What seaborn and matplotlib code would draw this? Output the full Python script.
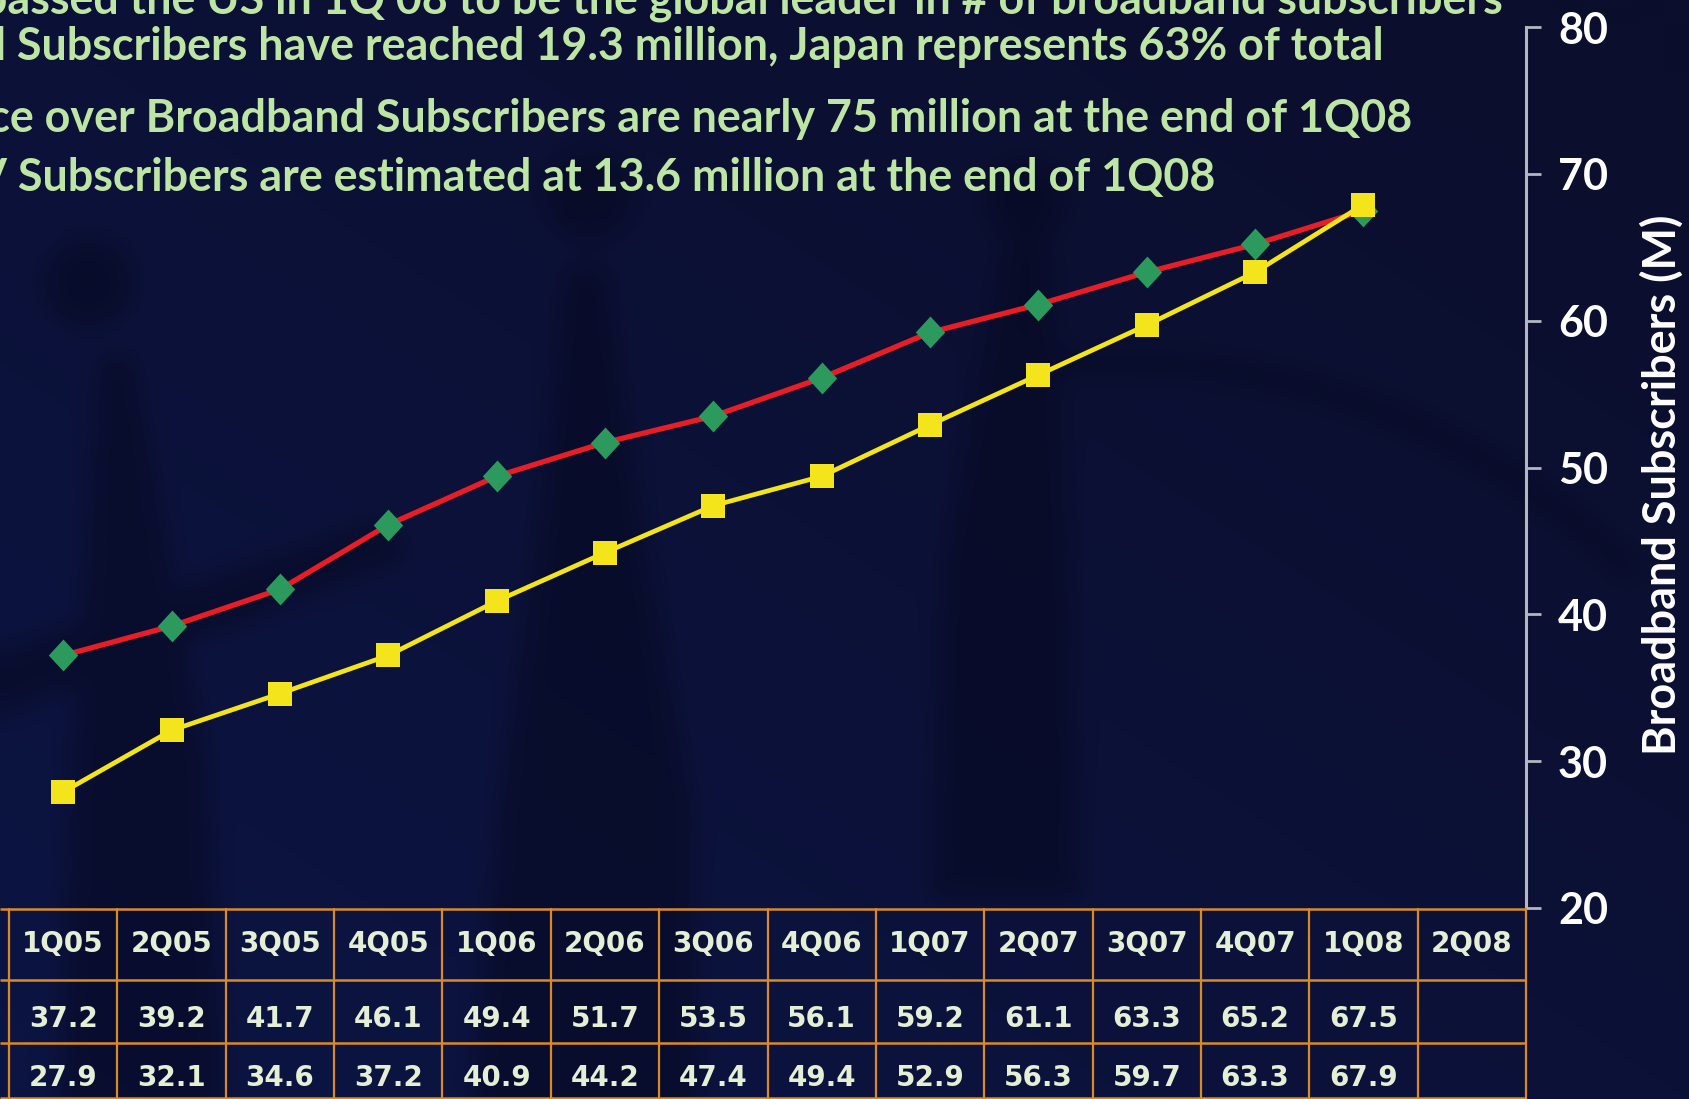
import numpy as np
import pandas as pd
import matplotlib
matplotlib.use("Agg")
import matplotlib.pyplot as plt
from matplotlib.path import Path
import seaborn as sns

# ---------------------------------------------------------------- data
quarters = ["1Q05", "2Q05", "3Q05", "4Q05", "1Q06", "2Q06", "3Q06",
            "4Q06", "1Q07", "2Q07", "3Q07", "4Q07", "1Q08", "2Q08"]
us_subs = [37.2, 39.2, 41.7, 46.1, 49.4, 51.7, 53.5, 56.1, 59.2, 61.1,
           63.3, 65.2, 67.5]
china_subs = [27.9, 32.1, 34.6, 37.2, 40.9, 44.2, 47.4, 49.4, 52.9, 56.3,
              59.7, 63.3, 67.9]
y_ticks = [20, 30, 40, 50, 60, 70, 80]
y_label = "Broadband Subscribers (M)"
headlines = [
    "China surpassed the US in 1Q 08 to be the global leader in # of broadband subscribers",
    "Fiber Optical Subscribers have reached 19.3 million, Japan represents 63% of total",
    "Voice over Broadband Subscribers are nearly 75 million at the end of 1Q08",
    "IPTV Subscribers are estimated at 13.6 million at the end of 1Q08",
]

# ---------------------------------------------------------------- style
sns.set_theme(style="white")
plt.rcParams["font.family"] = ["DejaVu Sans"]

W, H, DPI = 1689, 1099, 100
BG = "#0c1236"
TEXT_GREEN = "#bde5a3"
GRID_ORANGE = "#d98a24"
CELL_TEXT = "#e4efd6"
AXIS_GREY = "#b4b6c0"
HEAD_FONT = ["Lato", "DejaVu Sans"]

fig = plt.figure(figsize=(W / DPI, H / DPI), dpi=DPI, facecolor=BG)
renderer = fig.canvas.get_renderer()


def px_x(x):
    return x / W


def px_y(y):
    # pixel measured from the top edge -> figure fraction
    return 1 - y / H


def fit_size(s, target_px, **kw):
    t = fig.text(0, 0, s, fontsize=30, **kw)
    w = t.get_window_extent(renderer).width
    t.remove()
    return 30 * target_px / w


# ---------------------------------------------------------------- backdrop
# gradient slide background with soft, blurred silhouettes
nx, ny = 422, 275
gx = np.linspace(0, W, nx)
gy = np.linspace(0, H, ny)
GX, GY = np.meshgrid(gx, gy)
c_a = np.array([0x0c, 0x14, 0x42]) / 255   # bluer lower left
c_b = np.array([0x0b, 0x0e, 0x2c]) / 255   # darker upper right
mix = np.clip(0.5 + 0.55 * (GX / W - GY / H), 0, 1)[..., None]
base = c_a * (1 - mix) + c_b * mix

pts = np.column_stack([GX.ravel(), GY.ravel()])
mask = np.zeros(GX.shape)


def add_poly(verts):
    global mask
    inside = Path(verts).contains_points(pts).reshape(GX.shape)
    mask = np.maximum(mask, inside.astype(float))


def add_circle(cx, cy, r):
    global mask
    inside = ((GX - cx) ** 2 + (GY - cy) ** 2) <= r ** 2
    mask = np.maximum(mask, inside.astype(float))


add_circle(86, 282, 44)
add_poly([(98, 355), (130, 355), (160, 520), (205, 760), (225, 1099),
          (55, 1099), (70, 760), (88, 520)])
add_circle(588, 195, 44)
add_poly([(565, 265), (605, 265), (640, 520), (690, 800), (700, 1099),
          (470, 1099), (500, 800), (540, 520)])
add_circle(1025, 200, 40)
add_poly([(1005, 240), (1050, 240), (1070, 560), (1080, 900),
          (930, 900), (945, 560)])
add_poly([(0, 650), (380, 520), (410, 555), (0, 715)])
# large dim arc on the right
rr = np.hypot(GX - 1120, GY - 1093)
ang = np.degrees(np.arctan2(1093 - GY, GX - 1120))
mask = np.maximum(mask, ((np.abs(rr - 731) < 11) & (ang > 45) & (ang < 97)).astype(float) * 0.9)


def box_blur(a, r):
    k = np.ones(2 * r + 1) / (2 * r + 1)
    a = np.apply_along_axis(lambda v: np.convolve(np.pad(v, r, mode="edge"), k, "valid"), 0, a)
    a = np.apply_along_axis(lambda v: np.convolve(np.pad(v, r, mode="edge"), k, "valid"), 1, a)
    return a


for _ in range(2):
    mask = box_blur(mask, 3)
shadow = np.array([0x06, 0x08, 0x1e]) / 255
strength = 0.5 * mask[..., None]
backdrop = base * (1 - strength) + shadow * strength

bg = fig.add_axes([0, 0, 1, 1], zorder=0)
bg.imshow(backdrop, extent=[0, W, H, 0], aspect="auto", interpolation="bicubic")
bg.set_xlim(0, W)
bg.set_ylim(H, 0)
bg.axis("off")

# ---------------------------------------------------------------- headlines
head_size = fit_size(
    "Subscribers have reached 19.3 million, Japan represents 63% of total", 1366,
    family=HEAD_FONT, weight="bold")
head_right = [1503, 1384, 1412, 1215]
head_base = [14, 60, 132, 191]
for s, xr, yb in zip(headlines, head_right, head_base):
    fig.text(px_x(xr), px_y(yb), s, ha="right", va="baseline",
             fontsize=head_size, color=TEXT_GREEN, family=HEAD_FONT,
             weight="bold", zorder=3)

# ---------------------------------------------------------------- chart
ax_left, ax_right = 9, 1526
ax_top, ax_bottom = 27, 908
ax = fig.add_axes([px_x(ax_left), px_y(ax_bottom),
                   px_x(ax_right - ax_left), (ax_bottom - ax_top) / H], zorder=2)
ax.set_facecolor("none")

pos = np.arange(len(quarters))
df = pd.DataFrame({
    "pos": np.concatenate([pos[:len(us_subs)], pos[:len(china_subs)]]),
    "subs": us_subs + china_subs,
    "series": ["US"] * len(us_subs) + ["China"] * len(china_subs),
})

diamond = Path([(0, 0.5), (0.46, 0), (0, -0.5), (-0.46, 0), (0, 0.5)],
               [Path.MOVETO, Path.LINETO, Path.LINETO, Path.LINETO,
                Path.CLOSEPOLY])

sns.lineplot(data=df[df.series == "US"], x="pos", y="subs", ax=ax,
             color="#e81d25", lw=3.8, marker=diamond, markersize=23,
             markerfacecolor="#2c9a5c", markeredgecolor="#2c9a5c",
             markeredgewidth=0, estimator=None, errorbar=None, zorder=3)
sns.lineplot(data=df[df.series == "China"], x="pos", y="subs", ax=ax,
             color="#f3e41c", lw=3.4, marker="s", markersize=17,
             markerfacecolor="#f3e41c", markeredgecolor="#f3e41c",
             markeredgewidth=0, estimator=None, errorbar=None, zorder=4)

ax.set_xlim(-0.5, len(quarters) - 0.5)
ax.set_ylim(y_ticks[0], y_ticks[-1])
ax.set_yticks(y_ticks)
ax.set_xticks([])
ax.set_xlabel("")
for side in ("left", "top", "bottom"):
    ax.spines[side].set_visible(False)
ax.spines["right"].set_color(AXIS_GREY)
ax.spines["right"].set_linewidth(2.2)
ax.yaxis.tick_right()
tick_size = fit_size("80", 50, family=HEAD_FONT, weight="bold")
ax.tick_params(axis="y", direction="out", length=11, width=2,
               color=AXIS_GREY, labelcolor="white", pad=12,
               labelsize=tick_size, left=False, right=True)
for lab in ax.get_yticklabels():
    lab.set_family(HEAD_FONT)
    lab.set_weight("bold")

lab_size = fit_size(y_label, 539, family=HEAD_FONT, weight="bold")
ax.yaxis.set_label_position("right")
ax.set_ylabel(y_label, color="white", fontsize=lab_size, weight="bold",
              family=HEAD_FONT, rotation=90)
ax.yaxis.label.set_va("center")
ax.yaxis.set_label_coords((1662 - ax_left) / (ax_right - ax_left),
                          (ax_bottom - 485) / (ax_bottom - ax_top))

# ---------------------------------------------------------------- data table
tax = fig.add_axes([px_x(ax_left), 0, px_x(ax_right - ax_left),
                    (H - ax_bottom) / H], zorder=2)
tax.set_facecolor("none")
tax.set_xlim(-0.5, len(quarters) - 0.5)
tax.set_ylim(H, ax_bottom)
tax.axis("off")

row_lines = [909, 980, 1043, 1098]
col_left = -0.5 - ax_left / ((ax_right - ax_left) / len(quarters))
for yl in row_lines:
    tax.plot([col_left, len(quarters) - 0.5], [yl, yl], color=GRID_ORANGE,
             lw=1.8, clip_on=False, solid_capstyle="butt")
for k in range(len(quarters) + 1):
    tax.plot([k - 0.5, k - 0.5], [row_lines[0], H], color=GRID_ORANGE,
             lw=1.6, clip_on=False)

cell_kw = dict(ha="center", va="center", color=CELL_TEXT, fontsize=20,
               family="DejaVu Sans", weight="bold", clip_on=False)
for i, q in enumerate(quarters):
    tax.text(i, 944, q, **cell_kw)
for i, v in enumerate(us_subs):
    tax.text(i, 1019, f"{v:.1f}", **cell_kw)
for i, v in enumerate(china_subs):
    tax.text(i, 1078, f"{v:.1f}", **cell_kw)

fig.savefig("out.png", dpi=DPI, facecolor=BG)
